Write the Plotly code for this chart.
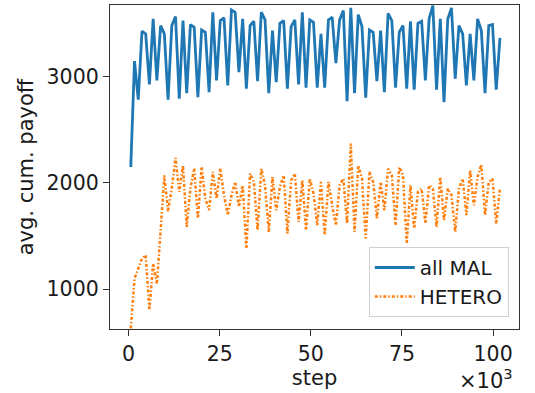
import plotly.graph_objects as go

# sampling grid (steps)
steps = [600 + 1023 * i for i in range(100)]

all_mal = [2148, 3144, 2781, 3425, 3400, 2925, 3541, 2962, 3479, 3400,
           2781, 3479, 3563, 2790, 3526, 2843, 3488, 3463, 2806, 3438,
           3416, 2853, 3604, 2962, 3526, 3551, 2915, 3626, 3604, 3040,
           3541, 2884, 3479, 3519, 2956, 3604, 3532, 2843, 3432, 2947,
           3500, 3526, 2884, 3469, 3532, 2925, 3604, 2894, 3532, 3510,
           2894, 3400, 2894, 3532, 3557, 3125, 3532, 3620, 2768, 3645,
           2843, 3582, 3469, 2800, 3438, 3416, 2956, 3432, 2853, 3594,
           3526, 2894, 3416, 3479, 2884, 3519, 2875, 3500, 3519, 2962,
           3541, 3667, 2875, 3541, 2759, 3541, 3645, 2978, 3479, 3400,
           2915, 3400, 2962, 3541, 3432, 2843, 3479, 3488, 2875, 3363]

hetero = [631, 1100, 1194, 1288, 1319, 803, 1241, 1053, 1550, 2070,
          1733, 1950, 2233, 1914, 2164, 1585, 1950, 2133, 1664, 2148,
          1852, 1742, 2102, 1852, 2133, 1883, 1695, 1880, 2008, 1773,
          1977, 1382, 2086, 2008, 1554, 2133, 1977, 1538, 2055, 1742,
          1961, 2070, 1523, 2023, 2086, 1632, 2023, 1554, 2039, 1900,
          1601, 2008, 1507, 2008, 1789, 1601, 1977, 2039, 1617, 2368,
          1538, 2164, 2039, 1476, 2102, 2008, 1664, 2008, 1742, 2133,
          2070, 1601, 2148, 2070, 1429, 1977, 1570, 1914, 1945, 1617,
          1977, 1945, 1585, 2055, 1648, 1945, 1883, 1538, 1945, 2039,
          1695, 2117, 1789, 2055, 2171, 1695, 2008, 2039, 1617, 1945]

x_tickvals = [0, 25000, 50000, 75000, 100000]
x_ticktext = ["0", "25", "50", "75", "100"]
y_tickvals = [1000, 2000, 3000]

font_family = "DejaVu Sans"
txt = "#1a1a1a"

fig = go.Figure()
fig.add_trace(go.Scatter(x=steps, y=all_mal, mode="lines", name="all MAL",
                         line=dict(color="#1f77b4", width=2.8)))
fig.add_trace(go.Scatter(x=steps, y=hetero, mode="lines", name="HETERO",
                         line=dict(color="#ff7f0e", width=2.5, dash="3px,2px,1.5px,2px")))

axis_common = dict(showline=True, linecolor="#333333", linewidth=1.3, mirror=True,
                   ticks="outside", ticklen=6, tickwidth=1.3, tickcolor="#333333",
                   showgrid=False, zeroline=False, automargin=False,
                   tickfont=dict(family=font_family, size=20.5, color=txt))

fig.update_layout(
    width=535, height=393,
    margin=dict(l=110, r=16, t=5, b=64),
    paper_bgcolor="white", plot_bgcolor="white",
    font=dict(family=font_family, size=21, color=txt),
    xaxis=dict(range=[-5100, 107100], tickvals=x_tickvals, ticktext=x_ticktext,
               title=dict(text="step", font=dict(family=font_family, size=21, color=txt), standoff=3),
               **axis_common),
    yaxis=dict(range=[625, 3672], tickvals=y_tickvals,
               title=dict(text="avg. cum. payoff", font=dict(family=font_family, size=21, color=txt),
                          standoff=7),
               **axis_common),
    legend=dict(x=0.975, y=0.037, xanchor="right", yanchor="bottom",
                bgcolor="rgba(255,255,255,0.85)", bordercolor="#d0d0d0", borderwidth=1,
                itemwidth=40, tracegroupgap=0,
                font=dict(family=font_family, size=20, color=txt)),
    showlegend=True,
)

fig.add_annotation(text="×10<sup>3</sup>", xref="paper", yref="paper",
                   x=0.99, y=-0.155, xanchor="right", yanchor="middle", showarrow=False,
                   font=dict(family=font_family, size=21, color=txt))

fig.write_html("out.html", config={"displayModeBar": False},
               post_script="document.body.style.margin='0';")
